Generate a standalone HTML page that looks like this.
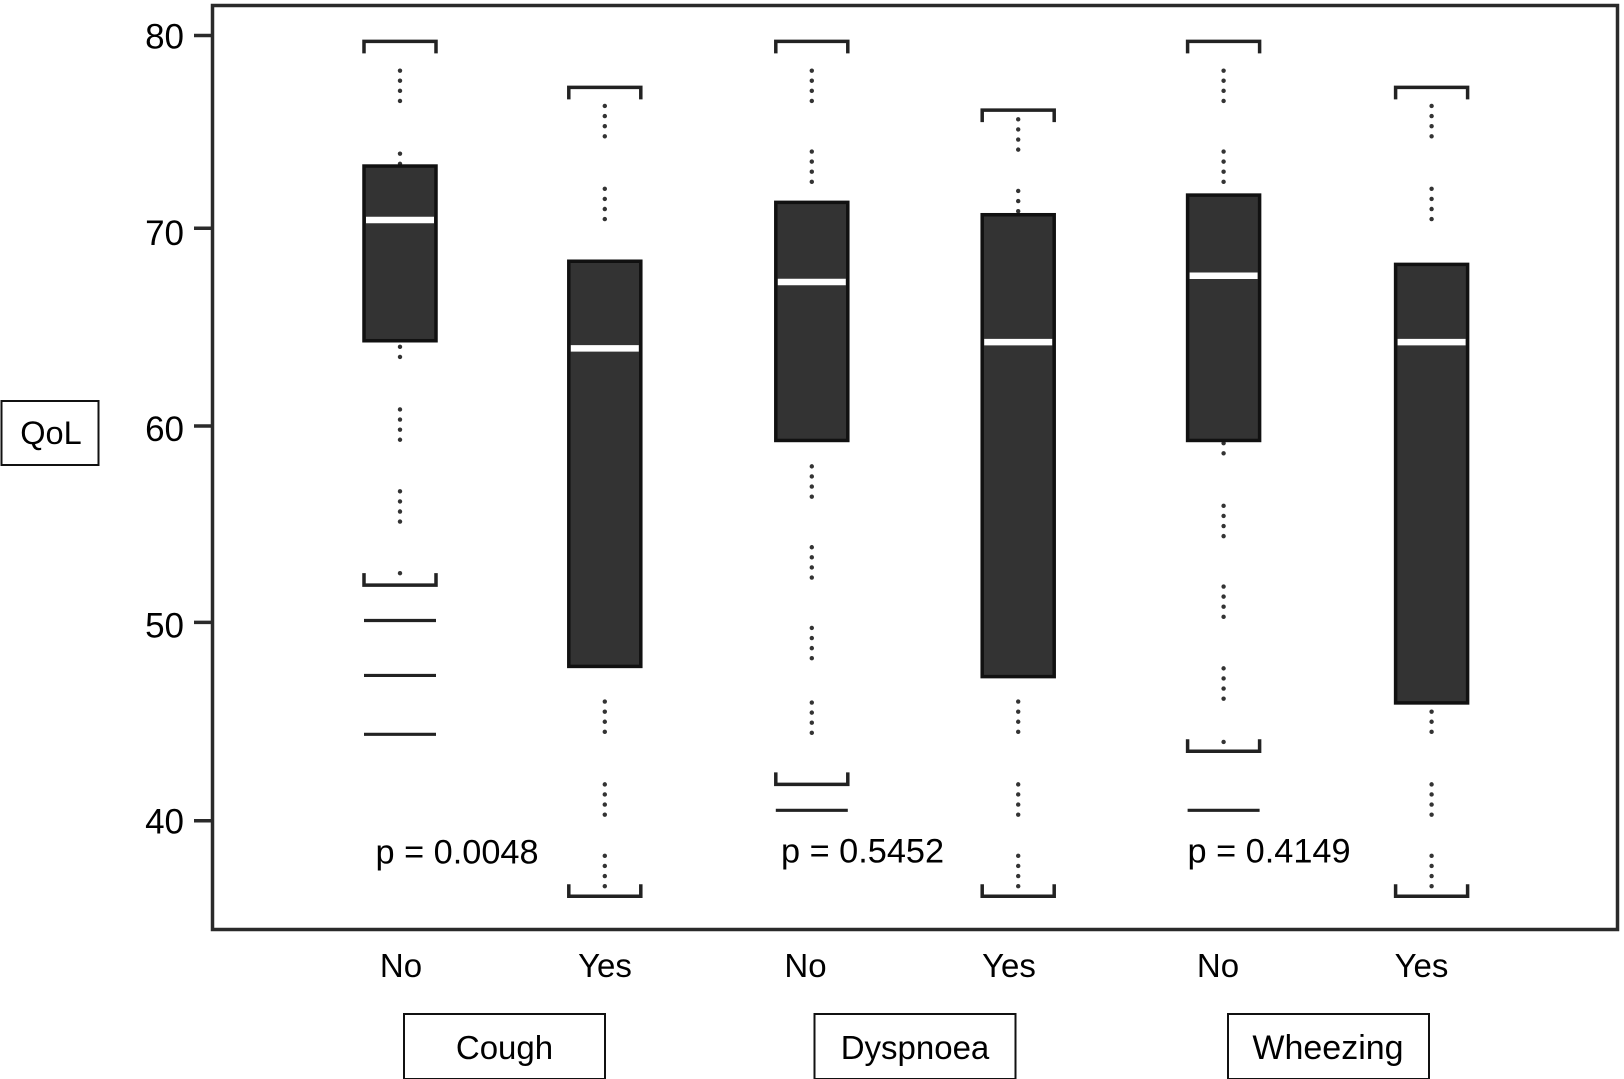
<!DOCTYPE html>
<html lang="en">
<head>
<meta charset="utf-8">
<title>QoL by symptom box plot</title>
<style>
html,body{margin:0;padding:0;background:#fff;width:1624px;height:1079px;overflow:hidden}
svg{display:block;font-family:"Liberation Sans",sans-serif;fill:#000}
</style>
</head>
<body>
<svg id="chart" width="1624" height="1079" viewBox="0 0 1624 1079" xmlns="http://www.w3.org/2000/svg">
  <rect x="212.5" y="5.5" width="1405" height="924" fill="#fff" stroke="#2a2a2a" stroke-width="3.5"/>
  <g id="y-axis"></g>
  <g id="whiskers"></g>
  <g id="boxes"></g>

  <g>
    <text x="401" y="977" font-size="33" text-anchor="middle">No</text>
    <text x="605" y="977" font-size="33" text-anchor="middle">Yes</text>
    <text x="805.5" y="977" font-size="33" text-anchor="middle">No</text>
    <text x="1009" y="977" font-size="33" text-anchor="middle">Yes</text>
    <text x="1218" y="977" font-size="33" text-anchor="middle">No</text>
    <text x="1421.5" y="977" font-size="33" text-anchor="middle">Yes</text>
  </g>

  <g>
    <rect x="1.5" y="401" width="97" height="64" fill="#fff" stroke="#111" stroke-width="2"/>
    <text x="51" y="444" font-size="32.5" text-anchor="middle">QoL</text>
  </g>

  <g>
    <rect x="404" y="1014" width="201" height="65" fill="#fff" stroke="#111" stroke-width="2"/>
    <text x="504.5" y="1059" font-size="33" text-anchor="middle">Cough</text>
  </g>
  <g>
    <rect x="814.5" y="1014" width="201" height="65" fill="#fff" stroke="#111" stroke-width="2"/>
    <text x="915" y="1059" font-size="33" text-anchor="middle">Dyspnoea</text>
  </g>
  <g>
    <rect x="1228" y="1014" width="201" height="65" fill="#fff" stroke="#111" stroke-width="2"/>
    <text x="1328" y="1059" font-size="34" text-anchor="middle">Wheezing</text>
  </g>

  <text x="375.5" y="863.5" font-size="34.3">p = 0.0048</text>
  <text x="781" y="862.5" font-size="34.3">p = 0.5452</text>
  <text x="1187.5" y="862.5" font-size="34.3">p = 0.4149</text>
</svg>
<script>
const yTickLabels = [80, 70, 60, 50, 40];
const yTickMarks = [80, 70.18, 60.11, 50.1, 40];
const boxNames = ["cough-no", "cough-yes", "dyspnoea-no", "dyspnoea-yes", "wheezing-no", "wheezing-yes"];
const upperCaps = [79.7, 77.36, 79.7, 76.2, 79.7, 77.36];
const q3Values = [73.35, 68.5, 71.5, 70.87, 71.87, 68.34];
const medians = [70.6, 64.06, 67.44, 64.38, 67.76, 64.38];
const q1Values = [64.45, 47.86, 59.37, 47.34, 59.37, 46.0];
const lowerCaps = [52.0, 36.15, 41.85, 36.15, 43.54, 36.15];
const outliers = [[50.2, 47.4, 44.4], [], [40.53], [], [40.53], []];
const dotGroups = [
  [78.21, 73.98, 65.17, 60.95, 56.78, 52.61],
  [76.41, 72.19, 46.07, 41.85, 38.21],
  [78.21, 74.09, 58.05, 53.93, 49.82, 46.02],
  [75.73, 72.08, 46.07, 41.85, 38.21],
  [78.21, 74.09, 60.26, 56.04, 51.93, 47.76, 44.01],
  [76.41, 72.19, 46.07, 41.85, 38.21]
];

const NS = "http://www.w3.org/2000/svg";
function yPos(v) { return 35.5 + (80 - v) * 19.63; }
function xPos(i) {
  const group = Math.floor(i / 2), sub = i % 2;
  return 400 + group * 411.8 + sub * (204.8 + group * 1.6);
}
function mk(tag, parent, attrs, text) {
  const el = document.createElementNS(NS, tag);
  for (const k in attrs) el.setAttribute(k, attrs[k]);
  if (text !== undefined) el.textContent = text;
  parent.appendChild(el);
  return el;
}

const gY = document.getElementById("y-axis");
const gW = document.getElementById("whiskers");
const gB = document.getElementById("boxes");
const halfW = 36;
const dotStep = 10.1;

yTickLabels.forEach(function (t, k) {
  const yMark = yPos(yTickMarks[k]);
  const tick = mk("line", gY, { x1: 194, x2: 212, y1: yMark, y2: yMark, stroke: "#2a2a2a", "stroke-width": 3.5 });
  
  
  const lab = mk("text", gY, { x: 184, y: yPos(t) + 13, "font-size": 35, "text-anchor": "end" }, String(t));
  
  
});

boxNames.forEach(function (name, i) {
  const cx = xPos(i);
  const left = cx - halfW, right = cx + halfW;
  const capTop = yPos(upperCaps[i]), capLow = yPos(lowerCaps[i]);
  const boxTop = yPos(q3Values[i]), boxLow = yPos(q1Values[i]);

  dotGroups[i].forEach(function (start) {
    for (let d = 0; d < 4; d++) {
      const y = yPos(start) + d * dotStep;
      if (y < capTop + 5 || y > capLow - 5) continue;
      const dot = mk("circle", gW, { cx: cx, cy: y, r: 2.2, fill: "#333" });
      
      
    }
  });

  const top = mk("path", gW, { d: "M" + left + " " + (capTop + 12) + "V" + capTop + "H" + right + "V" + (capTop + 12), fill: "none", stroke: "#222", "stroke-width": 3.5 });
  
  
  const low = mk("path", gW, { d: "M" + left + " " + (capLow - 12) + "V" + capLow + "H" + right + "V" + (capLow - 12), fill: "none", stroke: "#222", "stroke-width": 3.5 });
  
  

  const box = mk("rect", gB, { x: left, y: boxTop, width: halfW * 2, height: boxLow - boxTop, fill: "#333", stroke: "#111", "stroke-width": 3.5 });
  
  
  const my = yPos(medians[i]);
  const med = mk("line", gB, { x1: left + 2, x2: right - 2, y1: my, y2: my, stroke: "#fff", "stroke-width": 6.5 });
  
  

  outliers[i].forEach(function (v) {
    const oy = yPos(v);
    const o = mk("line", gB, { x1: left, x2: right, y1: oy, y2: oy, stroke: "#222", "stroke-width": 3.2 });
    
    
  });
});
</script>
</body>
</html>
